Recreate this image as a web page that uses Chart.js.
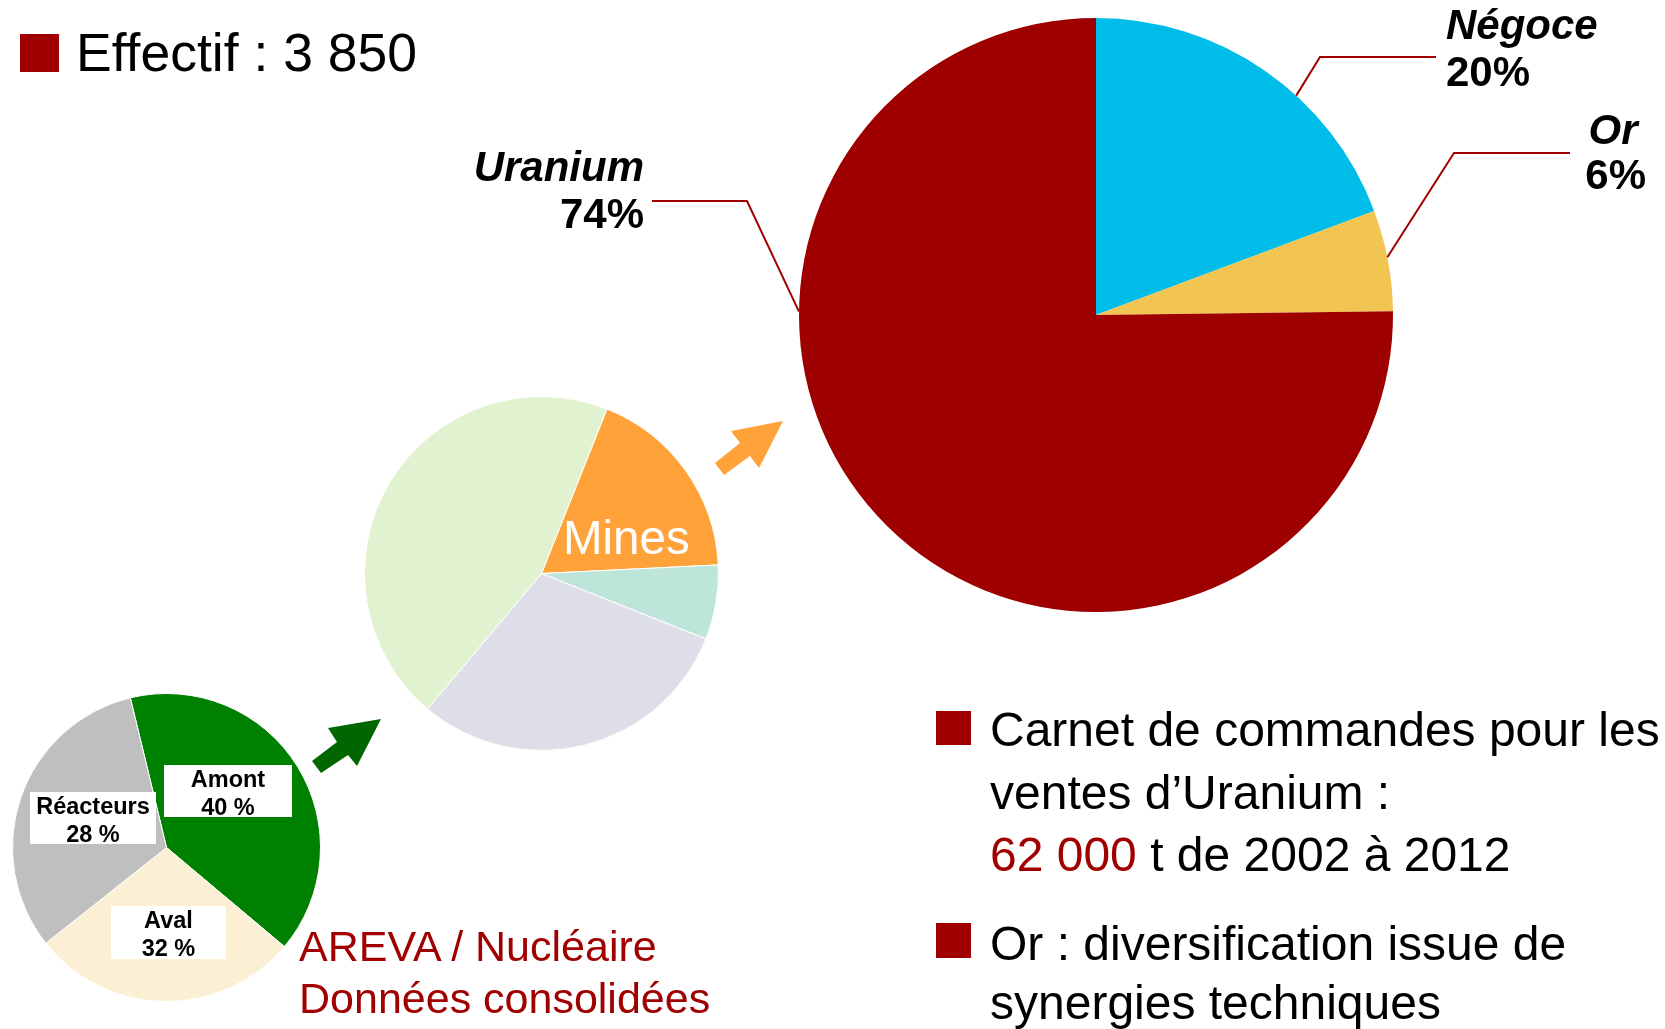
<!DOCTYPE html>
<html lang="fr">
<head>
<meta charset="utf-8">
<title>AREVA - Mines</title>
<script src="https://cdn.jsdelivr.net/npm/chart.js@4.4.1/dist/chart.umd.min.js"></script>
<style>
  html, body { margin: 0; padding: 0; background: #fff; }
  #page { position: relative; width: 1665px; height: 1029px; overflow: hidden;
          font-family: "Liberation Sans", Arial, sans-serif; color: #000; }
  canvas { position: absolute; }
  .txt { position: absolute; white-space: nowrap; }
  .sq { position: absolute; background: #a00000; }
  .box { position: absolute; background: #fff; text-align: center; font-weight: bold;
         font-size: 23.5px; line-height: 28px; }
  .lbl { position: absolute; white-space: nowrap; font-weight: bold; font-size: 42px; }
  .red { color: #a00000; }
</style>
</head>
<body>
<div id="page">
  <!-- Effectif -->
  <div class="sq" style="left:20px;top:34px;width:39px;height:38px"></div>
  <div class="txt" style="left:76px;top:23px;font-size:53.5px;line-height:60px">Effectif : 3 850</div>

  <!-- pies -->
  <canvas id="pie-small" width="309" height="309" style="left:12px;top:693px;width:309px;height:309px"></canvas>
  <canvas id="pie-mid" width="355" height="355" style="left:364px;top:396px;width:355px;height:355px"></canvas>
  <canvas id="pie-big" width="1025" height="640" style="left:640px;top:0px;width:1025px;height:640px"></canvas>

  <!-- small pie labels -->
  <div class="box" style="left:164px;top:765px;width:128px;height:52px">Amont<br>40 %</div>
  <div class="box" style="left:30px;top:792px;width:126px;height:52px">Réacteurs<br>28 %</div>
  <div class="box" style="left:111px;top:906px;width:115px;height:53px">Aval<br>32 %</div>

  <!-- mid pie label -->
  <div class="txt" style="left:563px;top:511px;font-size:47.5px;line-height:54px;color:#fff">Mines</div>

  <!-- big pie labels -->
  <div class="lbl" style="right:1021px;top:143px;line-height:47px;text-align:right"><i>Uranium</i><br>74%</div>
  <div class="lbl" style="left:1446px;top:1px;line-height:47px"><i>Négoce</i><br>20%</div>
  <div class="lbl" style="right:19px;top:107px;line-height:45px;text-align:right"><i>Or</i>&thinsp;<br>6%</div>

  <!-- arrows -->
  <svg width="1665" height="1029" style="position:absolute;left:0;top:0;pointer-events:none">
    <polygon fill="#006600" points="381,719 328,728 337,742 312,761 321,773 348,755 357,766"/>
    <polygon fill="#ffa23a" points="783,421 731,431 740,443 715,463 724,475 750,456 759,468"/>
  </svg>

  <div class="txt red" style="left:299px;top:920px;font-size:43px;line-height:52px">AREVA / Nucléaire<br>Données consolidées</div>

  <!-- right bullets -->
  <div class="sq" style="left:936px;top:711px;width:35px;height:34px"></div>
  <div class="txt" style="left:990px;top:699px;font-size:48px;line-height:62.5px">Carnet de commandes pour les<br>ventes d’Uranium :<br><span class="red">62 000</span> t de 2002 à 2012</div>
  <div class="sq" style="left:936px;top:923px;width:35px;height:35px"></div>
  <div class="txt" style="left:990px;top:914px;font-size:48px;line-height:59px">Or : diversification issue de<br>synergies techniques</div>
</div>

<script>
// Chiffres
const SMALL_LABELS = ['Amont', 'Aval', 'Réacteurs'];
const SMALL_VALUES = [39.9, 28.2, 31.9];
const SMALL_COLORS = ['#008000', '#fbf0d3', '#bfbfbf'];

const MID_LABELS = ['Mines', 'Autre A', 'Autre B', 'Autre C'];
const MID_VALUES = [18.2, 6.8, 30.1, 44.9];
const MID_COLORS = ['#ffa23a', '#bde5d9', '#dedee8', '#e1f2d0'];

const BIG_LABELS = ['Négoce', 'Or', 'Uranium'];
const BIG_VALUES = [19.3, 5.5, 75.2];
const BIG_COLORS = ['#00bce8', '#f2c553', '#9e0000'];

// traits de rappel: position sur l'arc (fraction de la part), coude, fin (px canvas)
const LEADERS = [
    {index: 0, frac: 0.61, elbow: [680, 57], end: [796, 57]},
    {index: 1, frac: 0.47, elbow: [814, 153], end: [930, 153]},
    {index: 2, frac: 0.67, elbow: [107, 201], end: [12, 201]}
];

const leaderLines = {
    id: 'leaderLines',
    afterDatasetsDraw(chart) {
        const ctx = chart.ctx;
        const arcs = chart.getDatasetMeta(0).data;
        ctx.save();
        ctx.strokeStyle = '#a00000';
        ctx.lineWidth = 2;
        LEADERS.forEach(l => {
            const a = arcs[l.index];
            const ang = a.startAngle + l.frac * (a.endAngle - a.startAngle);
            const x = a.x + Math.cos(ang) * a.outerRadius;
            const y = a.y + Math.sin(ang) * a.outerRadius;
            ctx.beginPath();
            ctx.moveTo(x, y);
            ctx.lineTo(l.elbow[0], l.elbow[1]);
            ctx.lineTo(l.end[0], l.end[1]);
            ctx.stroke();
        });
        ctx.restore();
    }
};

function pie(id, labels, values, colors, rotation, border, padding, plugins) {
    return new Chart(document.getElementById(id), {
        type: 'pie',
        data: {
            labels: labels,
            datasets: [{
                data: values,
                backgroundColor: colors,
                borderColor: '#ffffff',
                borderWidth: border
            }]
        },
        options: {
            responsive: false,
            devicePixelRatio: 1,
            animation: false,
            rotation: rotation,
            layout: {padding: padding},
            plugins: {legend: {display: false}, tooltip: {enabled: false}}
        },
        plugins: plugins || []
    });
}

pie('pie-small', SMALL_LABELS, SMALL_VALUES, SMALL_COLORS, -13.6, 1, 0);
pie('pie-mid', MID_LABELS, MID_VALUES, MID_COLORS, 21.7, 1, 0);
pie('pie-big', BIG_LABELS, BIG_VALUES, BIG_COLORS, 0, 0,
    {left: 159, top: 18, right: 272, bottom: 28}, [leaderLines]);
</script>
</body>
</html>
